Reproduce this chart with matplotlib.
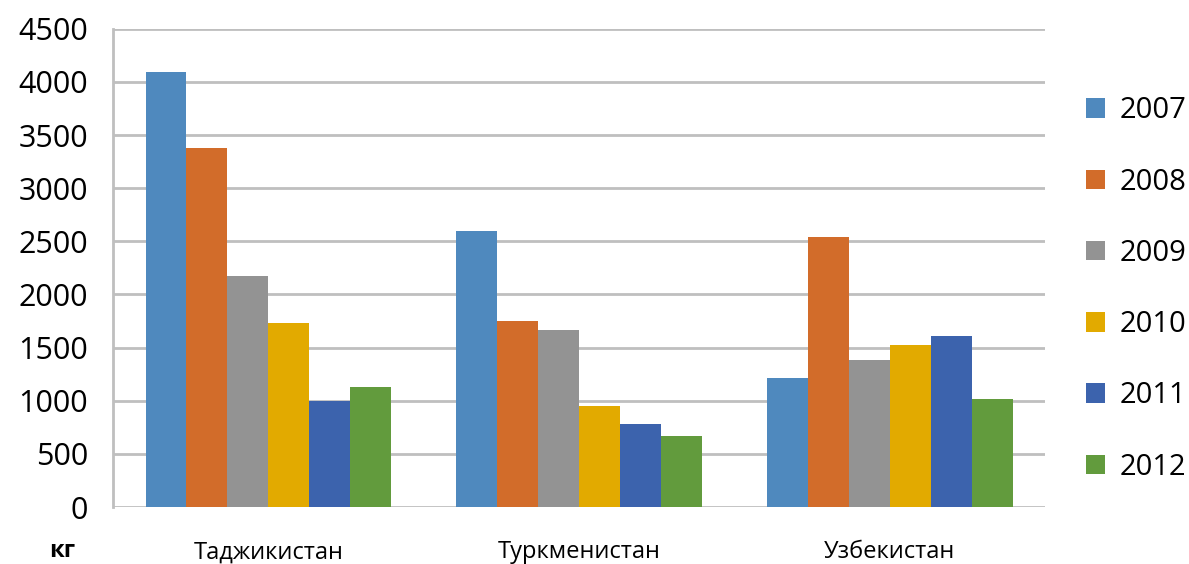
import matplotlib.pyplot as plt
import numpy as np

plt.rcParams['font.family'] = ['Open Sans', 'DejaVu Sans']

countries = ['Таджикистан', 'Туркменистан', 'Узбекистан']
years = ['2007', '2008', '2009', '2010', '2011', '2012']

# values per year, one entry per country
v2007 = [4090, 2600, 1210]
v2008 = [3375, 1750, 2545]
v2009 = [2170, 1670, 1380]
v2010 = [1730, 955, 1525]
v2011 = [995, 785, 1605]
v2012 = [1130, 670, 1015]
series = [v2007, v2008, v2009, v2010, v2011, v2012]

colors = ['#4F89BE', '#D26C2A', '#939393', '#E2AA00', '#3C63AD', '#629B3D']

fig = plt.figure(figsize=(11.89, 5.64), dpi=100)
ax = fig.add_axes([0.095, 0.101, 0.784, 0.848])

x = np.arange(len(countries))
group_w = 0.79
bw = group_w / len(years)
for i, (yr, vals) in enumerate(zip(years, series)):
    ax.bar(x - group_w / 2 + bw * (i + 0.5), vals, width=bw,
           color=colors[i], label=yr, zorder=3)

ax.set_xlim(-0.5, 2.5)
ax.set_ylim(0, 4500)
ax.set_yticks(range(0, 4501, 500))
ax.grid(axis='y', color='#BFBFBF', linewidth=2, zorder=0)
for s in ['top', 'right', 'bottom']:
    ax.spines[s].set_visible(False)
ax.spines['left'].set_color('#BFBFBF')
ax.spines['left'].set_linewidth(2)

ax.set_xticks(x)
ax.set_xticklabels(countries, fontsize=17)
ax.tick_params(axis='x', length=0, pad=24)
ax.tick_params(axis='y', length=0, pad=18, labelsize=22)

fig.text(0.052, 0.023, 'кг', fontsize=17, fontweight='bold', ha='center', va='center')

leg = ax.legend(loc='center left', bbox_to_anchor=(1.0, 0.456), frameon=False,
                fontsize=21, handlelength=0.65, handleheight=0.65,
                handletextpad=0.5, labelspacing=1.45, borderaxespad=1.0)

fig.savefig('out.png', dpi=100)
